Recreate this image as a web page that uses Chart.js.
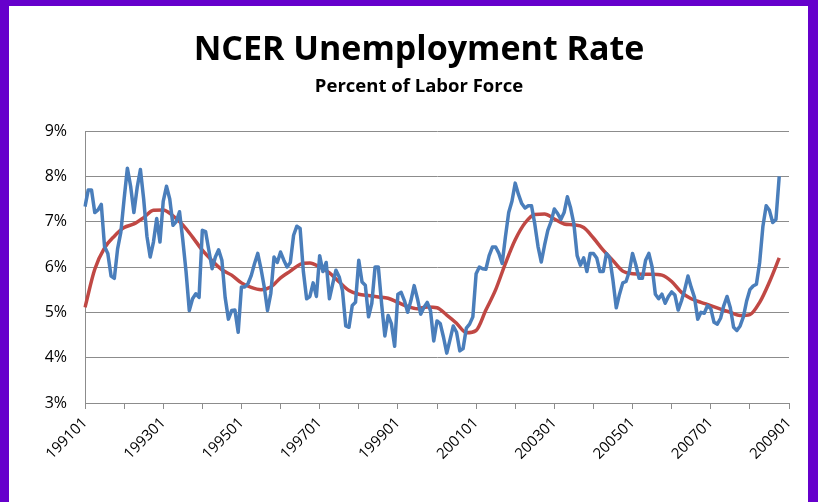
<!DOCTYPE html>
<html>
<head>
<meta charset="utf-8">
<script src="https://cdn.jsdelivr.net/npm/chart.js@4.4.1/dist/chart.umd.min.js"></script>
<style>
  html, body { margin: 0; padding: 0; }
  body { width: 818px; height: 502px; background: #6600cc; overflow: hidden; position: relative; }
  #box { position: absolute; left: 9px; top: 6px; width: 799px; height: 496px; background: #fff; }
  #myChart { position: absolute; left: 0; top: 0; }
</style>
</head>
<body>
<div id="box"><canvas id="myChart" width="820" height="496"></canvas></div>
<script>
// monthly rate from 199101
const rateValues = [
  7.33, 7.70, 7.70, 7.20, 7.26, 7.38, 6.45, 6.30, 5.80, 5.75, 6.40, 6.77,
  7.50, 8.18, 7.78, 7.20, 7.75, 8.15, 7.50, 6.68, 6.22, 6.55, 7.07, 6.55,
  7.45, 7.78, 7.50, 6.92, 7.00, 7.22, 6.60, 5.90, 5.04, 5.30, 5.41, 5.33,
  6.81, 6.78, 6.37, 5.96, 6.22, 6.38, 6.15, 5.33, 4.85, 5.04, 5.05, 4.56,
  5.56, 5.56, 5.63, 5.81, 6.07, 6.30, 5.96, 5.56, 5.04, 5.41, 6.22, 6.10,
  6.33, 6.15, 6.00, 6.10, 6.70, 6.90, 6.85, 5.90, 5.30, 5.35, 5.65, 5.35,
  6.25, 5.90, 6.10, 5.30, 5.63, 5.93, 5.78, 5.48, 4.70, 4.67, 5.15, 5.22,
  6.15, 5.67, 5.60, 4.90, 5.20, 6.00, 6.00, 5.19, 4.48, 4.93, 4.75, 4.25,
  5.40, 5.44, 5.26, 5.00, 5.26, 5.59, 5.30, 4.96, 5.11, 5.22, 5.04, 4.37,
  4.81, 4.75, 4.45, 4.10, 4.40, 4.70, 4.56, 4.15, 4.20, 4.65, 4.74, 4.90,
  5.85, 6.00, 5.96, 5.95, 6.25, 6.44, 6.44, 6.30, 6.08, 6.67, 7.20, 7.45,
  7.85, 7.60, 7.40, 7.30, 7.35, 7.35, 6.95, 6.45, 6.11, 6.48, 6.81, 7.00,
  7.28, 7.18, 7.05, 7.20, 7.55, 7.30, 6.95, 6.25, 6.04, 6.20, 5.90, 6.30,
  6.30, 6.20, 5.90, 5.90, 6.30, 6.20, 5.70, 5.10, 5.40, 5.65, 5.68, 5.90,
  6.30, 6.05, 5.75, 5.75, 6.15, 6.30, 6.00, 5.40, 5.30, 5.40, 5.20, 5.35,
  5.45, 5.38, 5.05, 5.25, 5.50, 5.80, 5.55, 5.33, 4.85, 5.00, 4.98, 5.15,
  5.08, 4.78, 4.74, 4.87, 5.15, 5.35, 5.10, 4.67, 4.60, 4.70, 4.90, 5.25,
  5.50, 5.58, 5.62, 6.10, 6.90, 7.35, 7.25, 6.98, 7.05, 8.00
];

// smoothed trend, one reading every 3 months
const trendStep = 3;
const trendValues = [
  5.11, 5.95, 6.42, 6.68, 6.87, 6.95, 7.09, 7.25, 7.26, 7.13, 6.93, 6.66,
  6.37, 6.14, 5.94, 5.82, 5.65, 5.55, 5.50, 5.56, 5.76, 5.91, 6.06, 6.09,
  6.00, 5.87, 5.67, 5.48, 5.40, 5.37, 5.34, 5.31, 5.22, 5.13, 5.08, 5.12,
  5.10, 4.94, 4.76, 4.55, 4.60, 5.05, 5.50, 6.08, 6.60, 6.97, 7.16, 7.17,
  7.06, 6.95, 6.93, 6.87, 6.64, 6.37, 6.14, 5.91, 5.85, 5.84, 5.84, 5.82,
  5.68, 5.44, 5.30, 5.22, 5.15, 5.07, 5.00, 4.93, 4.95, 5.22, 5.67, 6.20
];

const firstYear = 1991;
const lastYear = 2009;
const yTicks = [3, 4, 5, 6, 7, 8, 9];

// month labels like 199101
let months = [];
for (let y = firstYear; y <= lastYear; y++) {
  for (let m = 1; m <= 12; m++) {
    if (y == lastYear && m > 1) break;
    months.push(String(y) + (m < 10 ? "0" + m : m));
  }
}

let trendData = months.map(() => null);
trendValues.forEach((v, i) => { trendData[i * trendStep] = v; });

const axisGray = "#8c8c8c";
const font = "'Open Sans', 'Noto Sans', sans-serif";

var ctx = document.getElementById('myChart').getContext('2d');
var myChart = new Chart(ctx, {
  type: 'line',
  data: {
    labels: months,
    datasets: [{
      label: 'Rate',
      data: rateValues,
      borderColor: 'rgb(74,126,187)',
      borderWidth: 3.5,
      pointRadius: 0,
      tension: 0,
      borderJoinStyle: 'round'
    }, {
      label: 'Trend',
      data: trendData,
      spanGaps: true,
      borderColor: 'rgb(192,72,68)',
      borderWidth: 3.5,
      pointRadius: 0,
      cubicInterpolationMode: 'monotone'
    }]
  },
  options: {
    responsive: false,
    animation: false,
    layout: { padding: 0 },
    plugins: {
      legend: { display: false },
      tooltip: { enabled: false },
      title: {
        display: true,
        text: 'NCER Unemployment Rate',
        color: '#000',
        font: { family: font, size: 34, weight: 'bold' },
        padding: { top: 24, bottom: 0 }
      },
      subtitle: {
        display: true,
        text: 'Percent of Labor Force',
        color: '#000',
        font: { family: font, size: 18.5, weight: 'bold' },
        padding: { top: 5, bottom: 33 }
      }
    },
    scales: {
      x: {
        type: 'category',
        afterFit: (s) => { s.height = 99; },
        grid: {
          drawOnChartArea: false,
          drawTicks: true,
          tickLength: 6,
          tickColor: (c) => (c.index % 12 == 0 ? axisGray : 'rgba(0,0,0,0)')
        },
        border: { display: true, color: axisGray, width: 1 },
        ticks: {
          autoSkip: false,
          minRotation: 45,
          maxRotation: 45,
          padding: 5,
          color: '#000',
          font: { family: font, size: 15 },
          callback: function (value, index) {
            return index % 24 == 0 ? months[index] : '';
          }
        }
      },
      y: {
        min: 3,
        max: 9,
        afterFit: (s) => { s.width = 76; },
        afterBuildTicks: (s) => { s.ticks = yTicks.map(v => ({ value: v })); },
        grid: { color: axisGray, drawTicks: false },
        border: { display: true, color: axisGray, width: 1 },
        ticks: {
          padding: 18,
          color: '#000',
          font: { family: font, size: 16 },
          callback: (v) => v + '%'
        }
      },
      // empty right side so the plot ends where the original does
      // while the titles stay centred on the picture
      yRight: {
        position: 'right',
        min: 3,
        max: 9,
        afterFit: (s) => { s.width = 40; },
        grid: { display: false },
        border: { display: false },
        ticks: { display: false }
      }
    }
  }
});
</script>
</body>
</html>
